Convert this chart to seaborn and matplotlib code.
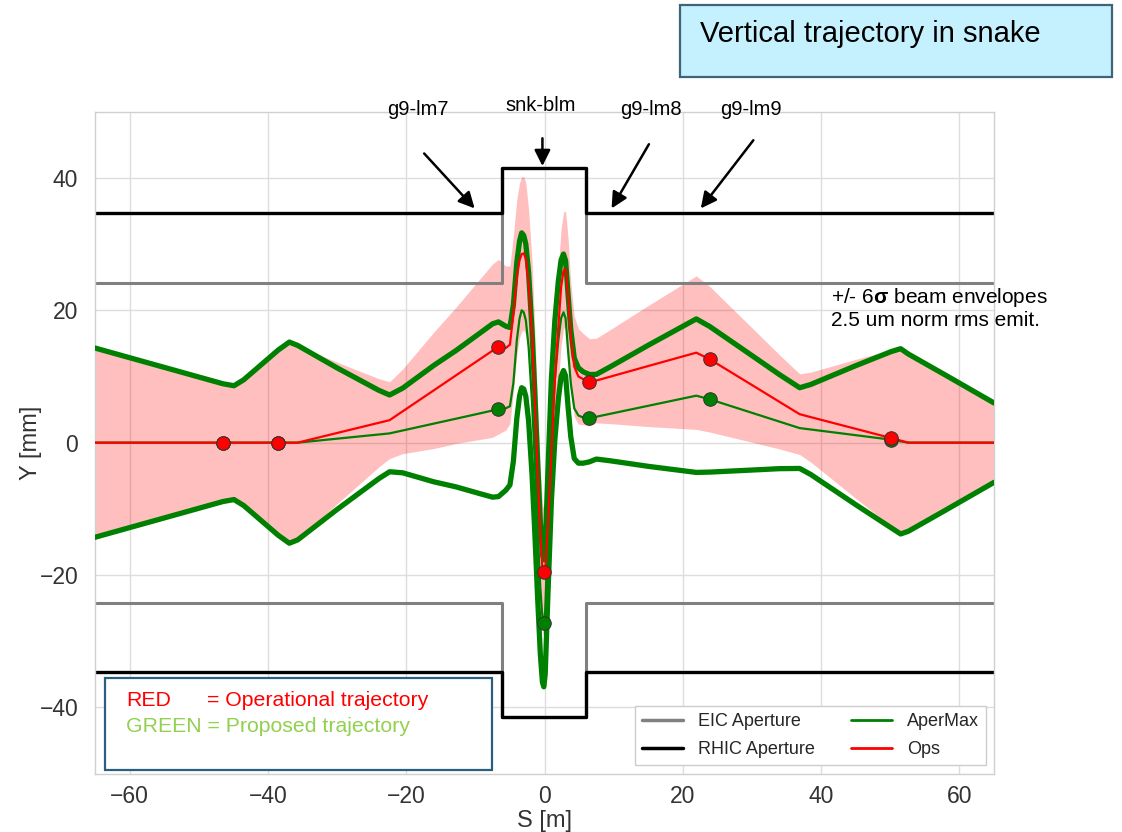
import numpy as np
import matplotlib
matplotlib.use("Agg")
import matplotlib.pyplot as plt
import seaborn as sns
from matplotlib.patches import Rectangle
from matplotlib.lines import Line2D

# ---------------- data ----------------
# longitudinal position along the snake [m]
s_m = [-65, -46.5, -44.9, -43.5, -38.5, -36.9, -35.7, -30, -24, -22.4, -20.5, -16, -12.8, -9.4, -7.5,
       -6.66, -5.6, -5.0, -4.5, -4.0, -3.6, -3.3, -3.0, -2.7, -2.3, -1.8, -1.4, -1.0, -0.6, -0.3, -0.1,
       0.1, 0.5, 1.0, 1.5, 2.0, 2.4, 2.75, 3.05, 3.4, 3.8, 4.3, 4.9, 5.6, 6.5,
       7.5, 9.5, 15, 21.95, 23.9, 30, 34, 36.9, 38.5, 45, 50.1, 51.5, 52.6, 58, 65]
# operational vertical trajectory [mm]
ops_mm = [0, 0, 0, 0, 0, 0, 0, 1.46, 2.99, 3.4, 4.74, 7.91, 10.17, 12.57, 13.91,
          14.5, 14.3, 14.8, 19.5, 25.0, 27.6, 28.5, 28.6, 27.8, 24.0, 16.5, 6.5, -4.5, -14.0, -19.0, -19.6,
          -19.2, -12.5, -1.5, 9.5, 17.5, 23.5, 26.0, 26.3, 22.5, 16.0, 11.5, 10.0, 9.6, 9.1,
          9.39, 9.97, 11.58, 13.6, 12.6, 8.71, 6.15, 4.3, 3.86, 2.09, 0.7, 0.31, 0, 0, 0]
# proposed (AperMax) vertical trajectory [mm]
apermax_mm = [0, 0, 0, 0, 0, 0, 0, 0.6, 1.23, 1.4, 1.84, 2.88, 3.62, 4.41, 4.86,
              5.05, 5.2, 5.5, 9.0, 15.5, 18.8, 20.0, 19.7, 18.5, 14.5, 6.0, -3.0, -13.0, -22.0, -26.5, -27.3,
              -25.5, -13.5, 0.5, 9.5, 15.5, 18.8, 19.7, 18.8, 14.0, 9.0, 5.2, 4.1, 3.8, 3.7,
              3.92, 4.36, 5.57, 7.1, 6.55, 4.51, 3.17, 2.2, 1.99, 1.13, 0.45, 0.2, 0, 0, 0]
# 6-sigma beam envelope half width [mm]
env6sig_mm = [14.3, 8.9, 8.6, 9.5, 14.0, 15.2, 14.7, 10.7, 6.7, 5.8, 6.4, 8.8, 10.3, 12.1, 13.1,
              13.2, 12.4, 11.9, 11.8, 11.8, 11.7, 11.7, 11.6, 11.5, 11.2, 10.9, 10.6, 10.3, 10.0, 9.7, 9.6,
              9.5, 9.3, 9.2, 9.0, 8.9, 8.8, 8.8, 8.7, 8.5, 8.1, 7.6, 7.2, 6.9, 6.6,
              6.4, 7.1, 9.15, 11.6, 11.0, 8.65, 7.1, 6.1, 6.8, 10.5, 13.3, 14.0, 13.4, 10.2, 6.0]

# BPM readings
bpm_s = [-46.5, -38.5, -6.66, -0.1, 6.5, 23.9, 50.1]
bpm_ops = [0, 0, 14.5, -19.6, 9.1, 12.6, 0.7]
bpm_apermax = [0, 0, 5.05, -27.3, 3.7, 6.55, 0.45]

# apertures
ap_s = [-65, -6.2, -6.2, 6.0, 6.0, 65]
eic_ap = [24.2, 24.2, 41.5, 41.5, 24.2, 24.2]
rhic_ap = [34.7, 34.7, 41.5, 41.5, 34.7, 34.7]

# BLM labels
blm_names = ["g9-lm7", "snk-blm", "g9-lm8", "g9-lm9"]
blm_text_xy = [(-18.3, 50.4), (-0.6, 51.0), (15.4, 50.4), (29.9, 50.4)]
blm_arrow_from = [(-17.4, 43.7), (-0.3, 46.0), (15.1, 45.1), (30.2, 45.7)]
blm_arrow_to = [(-10.1, 35.4), (-0.3, 41.8), (9.7, 35.4), (22.6, 35.4)]

x_ticks = [-60, -40, -20, 0, 20, 40, 60]
y_ticks = [-40, -20, 0, 20, 40]

# ---------------- style ----------------
sns.set_theme(style="whitegrid")
plt.rcParams["font.family"] = ["Liberation Sans", "DejaVu Sans"]
plt.rcParams["mathtext.fontset"] = "custom"
plt.rcParams["mathtext.rm"] = "Liberation Sans"
plt.rcParams["mathtext.bf"] = "Liberation Sans:bold"

W, H = 1122, 832
fig = plt.figure(figsize=(W / 100, H / 100), dpi=100)
ax = fig.add_axes([95 / W, 1 - 773.5 / H, 899 / W, 661.7 / H])

s = np.array(s_m)
ops = np.array(ops_mm)
amx = np.array(apermax_mm)
env = np.array(env6sig_mm)

GREEN = "#008000"
RED = "#ff0000"

# envelope around operational trajectory
ax.fill_between(s, ops - env, ops + env, color=RED, alpha=0.25, linewidth=0, zorder=1)

# apertures
for sign in (1, -1):
    sns.lineplot(x=ap_s, y=[sign * v for v in eic_ap], ax=ax, color="#808080", linewidth=2.2,
                 sort=False, estimator=None, zorder=2)
for sign in (1, -1):
    sns.lineplot(x=ap_s, y=[sign * v for v in rhic_ap], ax=ax, color="black", linewidth=2.4,
                 sort=False, estimator=None, zorder=2.5)

# AperMax envelope (thick green)
sns.lineplot(x=s, y=amx + env, ax=ax, color=GREEN, linewidth=3.8, sort=False, estimator=None, zorder=3)
sns.lineplot(x=s, y=amx - env, ax=ax, color=GREEN, linewidth=3.8, sort=False, estimator=None, zorder=3)

# trajectories
sns.lineplot(x=s, y=amx, ax=ax, color=GREEN, linewidth=1.6, sort=False, estimator=None, zorder=4)
sns.lineplot(x=s, y=ops, ax=ax, color=RED, linewidth=1.6, sort=False, estimator=None, zorder=5)

# BPM markers
sns.scatterplot(x=bpm_s, y=bpm_apermax, ax=ax, color=GREEN, s=95, edgecolor="#333333",
                linewidth=0.7, zorder=6)
sns.scatterplot(x=bpm_s, y=bpm_ops, ax=ax, color=RED, s=95, edgecolor="#333333",
                linewidth=0.7, zorder=7)

ax.set_xlim(-65, 65)
ax.set_ylim(-50, 50)
ax.set_xticks(x_ticks)
ax.set_yticks(y_ticks)
ax.tick_params(axis="both", labelsize=16.5, colors="#333333")
ax.tick_params(axis="x", pad=2)
ax.tick_params(axis="y", pad=6)
ax.grid(True, color="#dddddd", linewidth=1.0)
for sp in ax.spines.values():
    sp.set_color("#d0d0d0")
    sp.set_linewidth(1.0)
ax.set_xlabel("S [m]", fontsize=17, color="#333333", labelpad=2)
ax.set_ylabel("Y [mm]", fontsize=17, color="#333333", labelpad=-2)

# BLM arrows and labels
for name, txy, a0, a1 in zip(blm_names, blm_text_xy, blm_arrow_from, blm_arrow_to):
    ax.annotate("", xy=a1, xytext=a0,
                arrowprops=dict(arrowstyle="-|>", color="black", lw=1.8, mutation_scale=24,
                                shrinkA=0, shrinkB=0), zorder=8)
    ax.text(txy[0], txy[1], name, fontsize=14.5, ha="center", va="center", color="black",
            clip_on=False)

# beam-envelope note
ax.text(41.5, 22.0, r"+/- 6$\mathbf{σ}$ beam envelopes", fontsize=15, ha="left", va="center",
        color="black", clip_on=False)
ax.text(41.5, 18.5, "2.5 um norm rms emit.", fontsize=15, ha="left", va="center",
        color="black", clip_on=False)

# legend
handles = [Line2D([], [], color="#808080", lw=2.5, label="EIC Aperture"),
           Line2D([], [], color="black", lw=2.5, label="RHIC Aperture"),
           Line2D([], [], color=GREEN, lw=2.0, label="AperMax"),
           Line2D([], [], color=RED, lw=2.0, label="Ops")]
leg = ax.legend(handles=handles, loc="lower right", ncol=2, fontsize=13, frameon=True,
                fancybox=False, framealpha=1, edgecolor="#cccccc", handlelength=2.3,
                columnspacing=2.0, labelspacing=0.6, borderaxespad=0.45)
leg.set_zorder(9)

# RED / GREEN explanation box
fig.add_artist(Rectangle((105 / W, 1 - 770 / H), 387 / W, 92 / H, transform=fig.transFigure,
                         facecolor="white", edgecolor="#2b5f7e", linewidth=1.6, zorder=10))
fig.text(126 / W, 1 - 701 / H, "RED", color=RED, fontsize=15.3, va="center", ha="left", zorder=11)
fig.text(207 / W, 1 - 701 / H, "= Operational trajectory", color=RED, fontsize=15.3,
         va="center", ha="left", zorder=11)
fig.text(126 / W, 1 - 727 / H, "GREEN = Proposed trajectory", color="#92d050", fontsize=15.3,
         va="center", ha="left", zorder=11)

# title box
fig.add_artist(Rectangle((680 / W, 1 - 77 / H), 432 / W, 72 / H, transform=fig.transFigure,
                         facecolor="#c5f0fd", edgecolor="#3d6478", linewidth=1.6, zorder=10))
fig.text(700 / W, 1 - 34 / H, "Vertical trajectory in snake", color="black", fontsize=21,
         va="center", ha="left", zorder=11)

fig.savefig("out.png", dpi=100, facecolor="white")
